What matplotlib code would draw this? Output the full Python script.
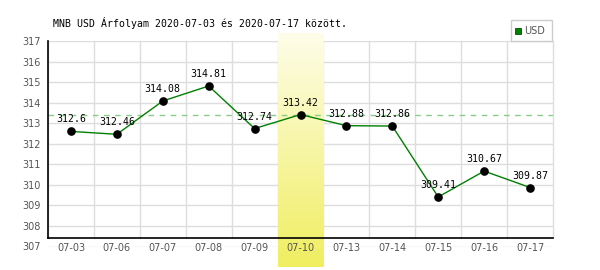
import matplotlib
matplotlib.use("Agg")
import matplotlib.pyplot as plt
import numpy as np
from matplotlib.patches import Rectangle
from matplotlib.colors import LinearSegmentedColormap

categories = ["07-03", "07-06", "07-07", "07-08", "07-09", "07-10",
              "07-13", "07-14", "07-15", "07-16", "07-17"]
values = [312.6, 312.46, 314.08, 314.81, 312.74, 313.42,
          312.88, 312.86, 309.41, 310.67, 309.87]
value_labels = ["312.6", "312.46", "314.08", "314.81", "312.74", "313.42",
                "312.88", "312.86", "309.41", "310.67", "309.87"]
y_ticks = [307, 308, 309, 310, 311, 312, 313, 314, 315, 316, 317]
highlight_index = 5
ref_value = 313.42
title = "MNB USD Árfolyam 2020-07-03 és 2020-07-17 között."
series_name = "USD"

fig = plt.figure(figsize=(6, 2.7), dpi=100)
ax = fig.add_axes([48/600, 1-246.5/270, (553-48)/600, (246.5-41)/270])
n = len(categories)
x = np.arange(n)
ax.set_xlim(-0.5, n-0.5)
ax.set_ylim(307, 317)

for s in ax.spines.values():
    s.set_visible(False)

# grid
for yt in y_ticks:
    ax.axhline(yt, color="#dddddd", lw=1, zorder=0.5)
for b in np.arange(n+1) - 0.5:
    ax.plot([b, b], [307.41, 317], color="#dddddd", lw=1, zorder=0.5, clip_on=False)

# highlight gradient column
cmap = LinearSegmentedColormap.from_list("hl", ["#fefde9", "#f0ee60"])
grad = np.linspace(0, 1, 256).reshape(-1, 1)
ax.imshow(grad, cmap=cmap, aspect="auto",
          extent=[highlight_index-0.5, highlight_index+0.5, 306.0, 317.34],
          origin="upper", zorder=0.8, clip_on=False)

# axes lines
ax.plot([-0.5, -0.5], [307.41, 317], color="black", lw=1.2, zorder=3, clip_on=False)
ax.plot([-0.5, n-0.5], [307.41, 307.41], color="black", lw=1.2, zorder=3, clip_on=False)

# reference dashed line
ax.axhline(ref_value, color="#88cc88", lw=1, ls=(0, (4, 4)), zorder=1)

# data
ax.plot(x, values, color="#008000", lw=1, zorder=2)
ax.plot(x, values, "o", color="black", ms=5.2, zorder=4)
for xi, v, lab in zip(x, values, value_labels):
    ax.annotate(lab, (xi, v), xytext=(0, 5), textcoords="offset points",
                ha="center", va="bottom", fontsize=7.1, family="DejaVu Sans Mono",
                color="black", zorder=5)

ax.set_xticks(x)
ax.set_xticklabels(categories)
ax.set_yticks(y_ticks)
ax.tick_params(axis="both", length=0, labelsize=7, labelcolor="#555555")
ax.tick_params(axis="x", pad=-2.5)
ax.tick_params(axis="y", pad=5)

fig.text(53/600, 1-23/270, title, fontsize=7.1, family="DejaVu Sans Mono",
         ha="left", va="center", color="black")

# legend
fig.patches.append(Rectangle((511/600, 1-41/270), 41/600, 21/270,
                             transform=fig.transFigure, facecolor="white",
                             edgecolor="#cccccc", lw=1))
fig.patches.append(Rectangle((515/600, 1-34/270), 6/600, 6/270,
                             transform=fig.transFigure, facecolor="#008000",
                             edgecolor="#005500", lw=0.6))
fig.text(524/600, 1-31/270, series_name, fontsize=7, color="#555555",
         ha="left", va="center")

fig.savefig("out.png", dpi=100)
